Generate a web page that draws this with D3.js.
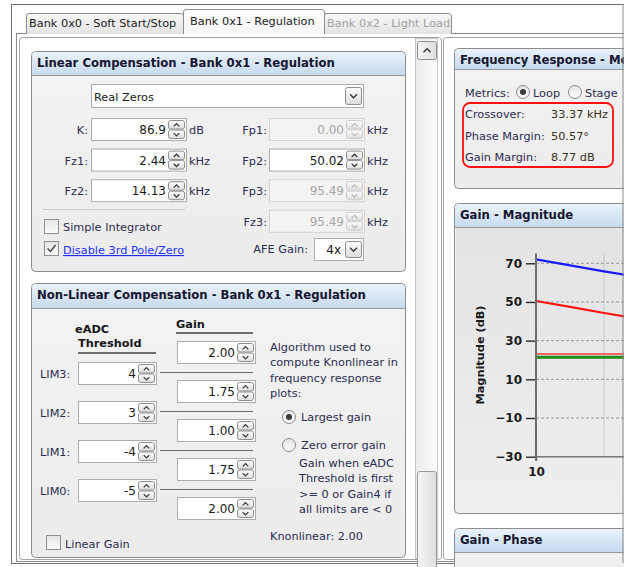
<!DOCTYPE html>
<html>
<head>
<meta charset="utf-8">
<script src="https://cdn.jsdelivr.net/npm/d3@7"></script>
<style>
  body { margin: 0; background: #fff; }
  text { font-family: "DejaVu Sans", sans-serif; font-size: 11.3px; fill: #2c2c50; }
</style>
</head>
<body>
<svg id="ui" width="624" height="567"></svg>
<script>
// ---- data ----
const tabNames = ["Bank 0x0 - Soft Start/Stop", "Bank 0x1 - Regulation", "Bank 0x2 - Light Load"];
const linTitle = "Linear Compensation - Bank 0x1 - Regulation";
const nonlinTitle = "Non-Linear Compensation - Bank 0x1 - Regulation";
const compType = "Real Zeros";
const leftLabels = ["K:", "Fz1:", "Fz2:"];
const leftValues = ["86.9", "2.44", "14.13"];
const leftUnits = ["dB", "kHz", "kHz"];
const rightLabels = ["Fp1:", "Fp2:", "Fp3:", "Fz3:"];
const rightValues = ["0.00", "50.02", "95.49", "95.49"];
const rightEnabled = [false, true, false, false];
const afeGain = "4x";
const limNames = ["LIM3:", "LIM2:", "LIM1:", "LIM0:"];
const limValues = ["4", "3", "-4", "-5"];
const gainValues = ["2.00", "1.75", "1.00", "1.75", "2.00"];
const algoText = ["Algorithm used to", "compute Knonlinear in", "frequency response", "plots:"];
const zeroErrText = ["Gain when eADC", "Threshold is first", ">= 0 or Gain4 if", "all limits are < 0"];
const knonlinear = "2.00";
const metricNames = ["Crossover:", "Phase Margin:", "Gain Margin:"];
const metricValues = ["33.37 kHz", "50.57\u00b0", "8.77 dB"];
const sideTitles = ["Frequency Response - Metrics", "Gain - Magnitude", "Gain - Phase"];

// gain - magnitude plot: frequency (Hz) and magnitude (dB)
const freqHz = [10, 15, 20, 25];
const magBlue = [72, 68.4, 65.8, 64.0];
const magRed = [50.5, 46.9, 44.3, 42.4];
const magRedFlat = [23.1, 23.1, 23.1, 23.1];
const magGreen = [21.4, 21.4, 21.4, 21.4];
const magTicks = [-30, -10, 10, 30, 50, 70];
const freqTicks = [10, 100, 1000, 10000, 100000];
const freqGrid = [20, 30, 40, 50, 60, 70, 80, 90];

const svg = d3.select("#ui");
const defs = svg.append("defs");

function grad(id, stops, horiz) {
  const g = defs.append("linearGradient").attr("id", id)
    .attr("x1", 0).attr("y1", 0).attr("x2", horiz ? 1 : 0).attr("y2", horiz ? 0 : 1);
  stops.forEach(s => g.append("stop").attr("offset", s[0]).attr("stop-color", s[1]));
}
grad("hdr", [[0, "#eaf2fb"], [1, "#c6daef"]]);
grad("tabOff", [[0, "#f8f8f8"], [1, "#e3e3e3"]]);
grad("tabOn", [[0, "#ffffff"], [1, "#f6f6f6"]]);
grad("btn", [[0, "#fdfdfd"], [1, "#dcdcdc"]]);
grad("body", [[0, "#f3f3f3"], [1, "#ececec"]]);
grad("plotBg", [[0, "#e3e3e3"], [1, "#efefef"]]);
grad("track", [[0, "#ececec"], [1, "#fbfbfb"]], true);
grad("thumb", [[0, "#f6f6f6"], [1, "#dedede"]], true);
grad("chk", [[0, "#e4e4e4"], [1, "#fbfbfb"]]);

function label(x, y, str, opts) {
  opts = opts || {};
  const t = svg.append("text").attr("x", x).attr("y", y).text(str);
  if (opts.anchor) t.attr("text-anchor", opts.anchor);
  if (opts.bold) t.style("font-weight", "bold");
  if (opts.fill) t.style("fill", opts.fill);
  if (opts.size) t.style("font-size", opts.size + "px");
  return t;
}

function chevron(g, cx, cy, up, color, s) {
  s = s || 3;
  const d = up ? `M${cx - s},${cy + s / 2}L${cx},${cy - s / 2}L${cx + s},${cy + s / 2}`
               : `M${cx - s},${cy - s / 2}L${cx},${cy + s / 2}L${cx + s},${cy - s / 2}`;
  g.append("path").attr("d", d).attr("fill", "none").attr("stroke", color).attr("stroke-width", 1.3);
}

function groupBox(x, y, w, h, hh, title) {
  const g = svg.append("g");
  g.append("rect").attr("x", x + 0.5).attr("y", y + 0.5).attr("width", w).attr("height", h)
    .attr("rx", 4).attr("fill", "url(#body)").attr("stroke", "#8d8d8d");
  g.append("path")
    .attr("d", `M${x + 1},${y + hh}V${y + 5}Q${x + 1},${y + 1} ${x + 5},${y + 1}H${x + w - 4}Q${x + w},${y + 1} ${x + w},${y + 5}V${y + hh}Z`)
    .attr("fill", "url(#hdr)");
  g.append("line").attr("x1", x + 1).attr("x2", x + w).attr("y1", y + hh + 0.5).attr("y2", y + hh + 0.5)
    .attr("stroke", "#9a9a9a");
  label(x + 6, y + 16, title, { bold: true, fill: "#161630", size: 11.7 });
  return g;
}

function spinBox(x, y, w, value, enabled) {
  const h = 22, g = svg.append("g");
  g.append("rect").attr("x", x + 0.5).attr("y", y + 0.5).attr("width", w).attr("height", h)
    .attr("fill", enabled ? "#fff" : "#f3f3f3").attr("stroke", enabled ? "#acacac" : "#d4d4d4");
  const bx = x + w - 18;
  [true, false].forEach((up, i) => {
    g.append("rect").attr("x", bx + 0.5).attr("y", y + 2.5 + i * 9.5).attr("width", 16).attr("height", 8.5)
      .attr("rx", 2).attr("fill", "url(#btn)").attr("stroke", enabled ? "#8e8e8e" : "#cdcdcd");
    chevron(g, bx + 8.5, y + 7 + i * 9.5, up, enabled ? "#3a3a3a" : "#bdbdbd", 2.8);
  });
  label(bx - 2, y + 16, value, { anchor: "end", fill: enabled ? "#1a1a1a" : "#a6a6a6", size: 12 });
}

function combo(x, y, w, h, value, right) {
  const g = svg.append("g");
  g.append("rect").attr("x", x + 0.5).attr("y", y + 0.5).attr("width", w).attr("height", h)
    .attr("fill", "#fff").attr("stroke", "#acacac");
  const bx = x + w - 18;
  g.append("rect").attr("x", bx + 0.5).attr("y", y + 3.5).attr("width", 16).attr("height", h - 6)
    .attr("rx", 2).attr("fill", "url(#btn)").attr("stroke", "#8e8e8e");
  chevron(g, bx + 8.5, y + h / 2 + 0.5, false, "#333", 3.5);
  if (right) label(bx - 4, y + h / 2 + 5, value, { anchor: "end", fill: "#1a1a1a", size: 12 });
  else label(x + 3, y + h / 2 + 5, value, { fill: "#1a1a1a" });
}

function checkBox(x, y, checked) {
  svg.append("rect").attr("x", x + 0.5).attr("y", y + 0.5).attr("width", 14).attr("height", 14)
    .attr("fill", "url(#chk)").attr("stroke", "#8e8f8f");
  if (checked) svg.append("path").attr("d", `M${x + 3.5},${y + 7.5}L${x + 6.5},${y + 10.5}L${x + 11.5},${y + 4}`)
    .attr("fill", "none").attr("stroke", "#444").attr("stroke-width", 1.4);
}

function radio(cx, cy, on) {
  svg.append("circle").attr("cx", cx).attr("cy", cy).attr("r", 6.5)
    .attr("fill", "url(#chk)").attr("stroke", "#8a8a8a");
  if (on) svg.append("circle").attr("cx", cx).attr("cy", cy).attr("r", 3).attr("fill", "#3c3c3c");
}

// ---- window frame and tabs ----
svg.append("rect").attr("width", 624).attr("height", 567).attr("fill", "#fff");
svg.append("rect").attr("x", 11.5).attr("y", 4.5).attr("width", 640).attr("height", 559)
  .attr("fill", "#fff").attr("stroke", "#6f6f6f");
svg.append("rect").attr("x", 16.5).attr("y", 33.5).attr("width", 640).attr("height", 528)
  .attr("fill", "#fff").attr("stroke", "#8c8c8c");

const tabBoxes = [[26, 13, 157, 21], [183, 9, 141, 25], [324, 13, 127, 21]];
tabBoxes.forEach((b, i) => {
  const on = i === 1;
  svg.append("path")
    .attr("d", `M${b[0] + 0.5},${b[1] + b[3]}V${b[1] + 3}Q${b[0] + 0.5},${b[1] + 0.5} ${b[0] + 3},${b[1] + 0.5}H${b[0] + b[2] - 2.5}Q${b[0] + b[2] + 0.5},${b[1] + 0.5} ${b[0] + b[2] + 0.5},${b[1] + 3}V${b[1] + b[3]}`)
    .attr("fill", on ? "url(#tabOn)" : "url(#tabOff)").attr("stroke", "#8c8c8c");
  label(b[0] + (on ? 7 : 3), b[1] + (on ? 16 : 14), tabNames[i],
    { fill: i === 2 ? "#a3a3a3" : "#1c1c1c", size: 11.3 });
});

// panes
svg.append("rect").attr("x", 19.5).attr("y", 37.5).attr("width", 422).attr("height", 522)
  .attr("rx", 3).attr("fill", "#fff").attr("stroke", "#a3a3a3");
svg.append("rect").attr("x", 443.5).attr("y", 37.5).attr("width", 220).attr("height", 522)
  .attr("rx", 3).attr("fill", "#fff").attr("stroke", "#a3a3a3");

// scrollbar
svg.append("rect").attr("x", 415.5).attr("y", 38.5).attr("width", 22).attr("height", 520)
  .attr("fill", "url(#track)").attr("stroke", "#c6c6c6");
svg.append("rect").attr("x", 417.5).attr("y", 41.5).attr("width", 19).attr("height", 18)
  .attr("rx", 2).attr("fill", "url(#thumb)").attr("stroke", "#8e8e8e");
chevron(svg, 427, 50.5, true, "#333", 3.5);
svg.append("rect").attr("x", 417.5).attr("y", 471.5).attr("width", 19).attr("height", 100)
  .attr("rx", 2).attr("fill", "url(#thumb)").attr("stroke", "#9a9a9a");

// ---- linear compensation ----
groupBox(31, 51, 374, 220, 24, linTitle);
combo(91, 84, 272, 23, compType, false);

leftLabels.forEach((lab, i) => {
  const y = 118 + i * 30.6;
  label(88, y + 16, lab, { anchor: "end" });
  spinBox(91, y, 95, leftValues[i], true);
  label(189, y + 16, leftUnits[i]);
});
rightLabels.forEach((lab, i) => {
  const y = 118 + i * 30.6;
  label(267, y + 16, lab, { anchor: "end" });
  spinBox(269, y, 95, rightValues[i], rightEnabled[i]);
  label(367, y + 16, "kHz");
});

svg.append("line").attr("x1", 43).attr("x2", 185).attr("y1", 209.5).attr("y2", 209.5).attr("stroke", "#cfcfcf");
checkBox(44, 219, false);
label(63, 231, "Simple Integrator");
checkBox(44, 241, true);
label(63, 254, "Disable 3rd Pole/Zero", { fill: "#1f2fff" }).attr("text-decoration", "underline");
label(308, 253, "AFE Gain:", { anchor: "end" });
combo(314, 238, 49, 22, afeGain, true);

// ---- non-linear compensation ----
groupBox(31, 283, 374, 274, 25, nonlinTitle);
label(75, 333, "eADC", { bold: true, fill: "#161616" });
label(78, 347, "Threshold", { bold: true, fill: "#161616" });
svg.append("line").attr("x1", 78).attr("x2", 156).attr("y1", 353).attr("y2", 353).attr("stroke", "#404040").attr("stroke-width", 1.5);
label(176, 328, "Gain", { bold: true, fill: "#161616" });
svg.append("line").attr("x1", 176).attr("x2", 253).attr("y1", 333).attr("y2", 333).attr("stroke", "#404040").attr("stroke-width", 1.5);

gainValues.forEach((v, i) => spinBox(177, 341 + i * 39, 78, v, true));
limNames.forEach((n, i) => {
  const y = 362 + i * 39;
  label(40, y + 16, n);
  spinBox(78, y, 78, limValues[i], true);
  svg.append("line").attr("x1", 160).attr("x2", 253).attr("y1", y + 10.5).attr("y2", y + 10.5).attr("stroke", "#6a6a6a");
});

algoText.forEach((t, i) => label(270, 351 + i * 15.3, t));
radio(289, 417, true);
label(301, 421, "Largest gain");
radio(289, 445, false);
label(301, 449, "Zero error gain");
zeroErrText.forEach((t, i) => label(299, 467 + i * 15.3, t));
label(270, 540, "Knonlinear:  " + knonlinear);
checkBox(46, 535, false);
label(65, 548, "Linear Gain");

// ---- frequency response metrics ----
groupBox(454, 48, 220, 140, 21, sideTitles[0]);
label(465, 97, "Metrics:");
radio(523, 92, true);
label(533, 97, "Loop");
radio(575, 92, false);
label(585, 97, "Stage");
svg.append("rect").attr("x", 463).attr("y", 103).attr("width", 150).attr("height", 64).attr("rx", 7)
  .attr("fill", "none").attr("stroke", "#ff1010").attr("stroke-width", 1.8);
metricNames.forEach((n, i) => {
  const y = 118 + i * 21.5;
  label(465, y, n);
  label(551, y, metricValues[i], { fill: "#3a3020" });
});

// ---- gain - magnitude ----
groupBox(454, 203, 220, 310, 24, sideTitles[1]);
svg.append("rect").attr("x", 456).attr("y", 228).attr("width", 220).attr("height", 283).attr("fill", "url(#plotBg)");
groupBox(454, 528, 220, 60, 24, sideTitles[2]);

const x = d3.scaleLog().domain([10, 1e6]).range([536, 536 + 226 * 5]);
const y = d3.scaleLinear().domain([-30, 75]).range([456.7, 253.6]);
const plotRight = 672;

const plot = svg.append("g");
plot.append("clipPath").attr("id", "pclip").append("rect")
  .attr("x", 536).attr("y", y(75)).attr("width", plotRight - 536).attr("height", y(-30) - y(75));

// grid
plot.selectAll(".vg").data(freqGrid).enter().append("line")
  .attr("x1", d => x(d)).attr("x2", d => x(d)).attr("y1", y(75)).attr("y2", y(-30))
  .attr("stroke", "#c9c9c9");
plot.selectAll(".hg").data(magTicks).enter().append("line")
  .attr("x1", 536).attr("x2", plotRight).attr("y1", d => y(d)).attr("y2", d => y(d))
  .attr("stroke", "#9b9b9b").attr("stroke-dasharray", "3,2");

// series
const line = d3.line().x(d => x(d[0])).y(d => y(d[1]));
const series = [
  { v: magGreen, c: "#1f8a1f", w: 3 },
  { v: magRedFlat, c: "#ff3a3a", w: 1.3 },
  { v: magRed, c: "#ff1414", w: 2.2 },
  { v: magBlue, c: "#1a1aff", w: 2.2 }
];
const lines = plot.append("g").attr("clip-path", "url(#pclip)");
series.forEach(s => {
  lines.append("path").datum(freqHz.map((f, i) => [f, s.v[i]]))
    .attr("d", line).attr("fill", "none").attr("stroke", s.c).attr("stroke-width", s.w);
});

// axes (only the decade labels that fall inside the visible part of the window)
const yAxis = plot.append("g").attr("transform", "translate(536,0)")
  .call(d3.axisLeft(y).tickValues(magTicks).tickSize(10).tickPadding(4));
yAxis.select(".domain").remove();
yAxis.selectAll(".tick line").attr("stroke", "#2a2a2a").attr("stroke-width", 1.4);
yAxis.selectAll(".tick text").style("font-size", "12px").style("font-weight", "bold").style("fill", "#1a1a1a");

const xAxis = plot.append("g").attr("transform", `translate(0,${y(-30)})`)
  .call(d3.axisBottom(x).tickValues(freqTicks.filter(f => x(f) < 600)).tickFormat(d3.format("d"))
    .tickSize(4).tickPadding(7));
xAxis.select(".domain").remove();
xAxis.selectAll(".tick line").attr("stroke", "#2a2a2a").attr("stroke-width", 1.4);
xAxis.selectAll(".tick text").style("font-size", "12px").style("font-weight", "bold").style("fill", "#1a1a1a");

plot.append("line").attr("x1", 536).attr("x2", plotRight).attr("y1", y(-30)).attr("y2", y(-30))
  .attr("stroke", "#7a7a7a").attr("stroke-width", 1.5);
plot.append("line").attr("x1", 536).attr("x2", 536).attr("y1", y(75)).attr("y2", y(-30) + 4)
  .attr("stroke", "#6e6e6e").attr("stroke-width", 2);

svg.append("text").attr("transform", "translate(484,355) rotate(-90)")
  .attr("text-anchor", "middle").style("font-weight", "bold").style("fill", "#1a1a1a")
  .text("Magnitude (dB)");

// right window edge
svg.append("line").attr("x1", 623).attr("x2", 623).attr("y1", 4).attr("y2", 563).attr("stroke", "#8c8c8c");
</script>
</body>
</html>
